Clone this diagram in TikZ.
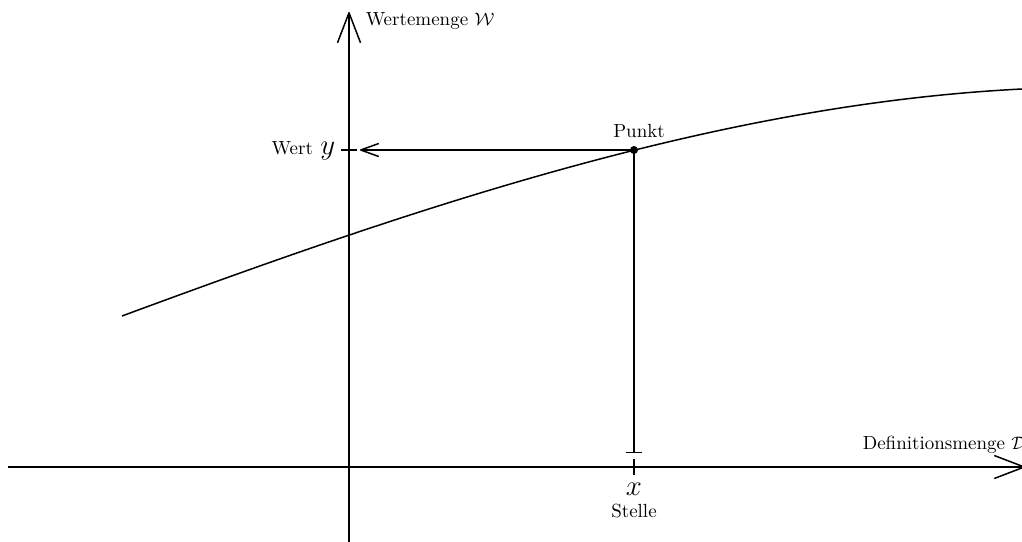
\documentclass[tikz,border=0pt]{standalone}
\usetikzlibrary{arrows.meta}
\begin{document}
\begin{tikzpicture}[x=0.5pt,y=-0.5pt,
  line width=0.75pt,
  axis/.style={-{Straight Barb[length=15pt,width=11.5pt,line join=round]}},
  proj/.style={-{Straight Barb[length=9pt,width=6.5pt,line join=round]}},
  lbl/.style={inner sep=0pt,font=\fontsize{9.5}{11}\selectfont},
  mth/.style={inner sep=0pt,font=\fontsize{15}{18}\selectfont},
  dot/.style={circle,fill=black,inner sep=0pt,minimum size=4pt}]
\useasboundingbox (0,0) rectangle (1022,541);
% axes
\coordinate (xs) at (8,467);
\coordinate (xe) at (1025,467);
\coordinate (ys) at (349,545);
\coordinate (ye) at (349,12);
\draw[axis] (xs) -- (xe);
\draw[axis] (ys) -- (ye);
% curve
\coordinate (c0) at (122,316);
\coordinate (c1) at (422,205);
\coordinate (c2) at (722,104);
\coordinate (c3) at (1022,89);
\draw (c0) .. controls (c1) and (c2) .. (c3);
% point and projections
\node[dot] (P) at (634,150) {};
\coordinate (Y) at (349,150);
\coordinate (Ya) at (360,150);
\coordinate (X) at (634,467);
\coordinate (Xb) at (634,453);
\draw[proj] (P.center) -- (Ya);
\draw[-{Bar[width=8pt]}] (P.center) -- (Xb);
\draw ([xshift=-4pt]Y) -- ([xshift=4pt]Y);
\draw ([yshift=-4pt]X) -- ([yshift=4pt]X);
% labels
\node[lbl,anchor=base west] (W) at (365,25) {Wertemenge $\mathcal{W}$};
\node[lbl,anchor=base west] (D) at (862,449) {Definitionsmenge $\mathcal{D}$};
\node[mth,anchor=base east] (yl) at (336,154) {$y$};
\node[lbl,anchor=base east] (wl) at ([xshift=-3pt]yl.base west) {Wert};
\node[lbl,anchor=base] (pl) at (639,137) {Punkt};
\node[mth,anchor=base] (xl) at (634,495) {$x$};
\node[lbl,anchor=base] (sl) at (634,517) {Stelle};
\end{tikzpicture}
\end{document}
